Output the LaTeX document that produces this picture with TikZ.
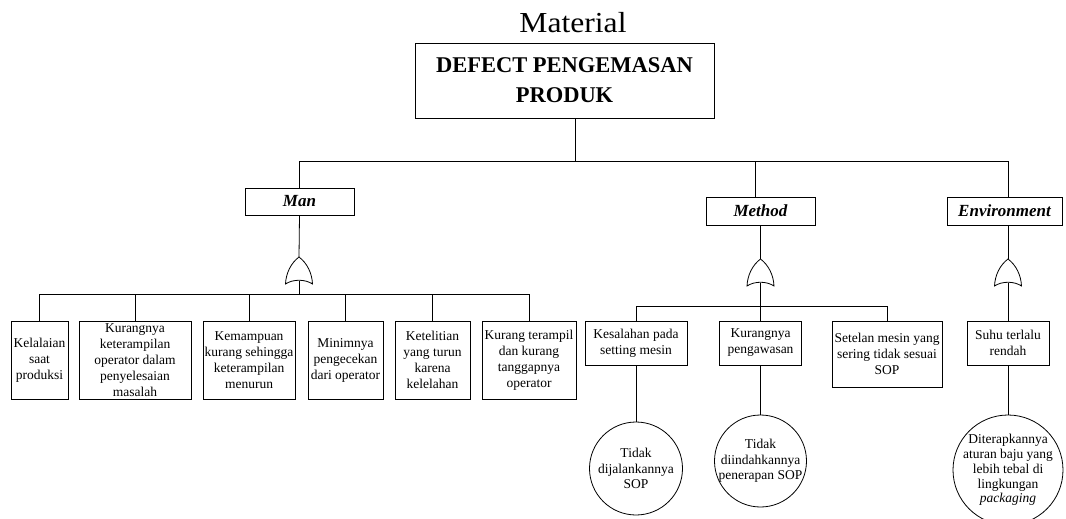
\documentclass[tikz,border=0pt]{standalone}
\usepackage{fontspec}
\setmainfont{Liberation Serif}
\newfontfamily\headfont[FakeStretch=1.09]{Liberation Serif}
\tikzset{
  x=1pt, y=-1pt,
  every path/.style={line width=0.8pt},
  box/.style={draw, rectangle, inner sep=0pt},
  circ/.style={draw, circle, inner sep=0pt},
  txt/.style={align=center, inner sep=0pt, font=\fontsize{13.5}{16}\selectfont},
  ctxt/.style={align=center, inner sep=0pt, font=\fontsize{13.5}{15.3}\selectfont},
  cat/.style={box, font=\fontsize{17}{20}\selectfont\bfseries\itshape},
  orgate/.pic={
    \draw (0,0) .. controls (8,6) and (13,16) .. (13.5,27)
                .. controls (6,22) and (-6,22) .. (-13.5,27)
                .. controls (-13,16) and (-8,6) .. (0,0) -- cycle;
  }
}
\begin{document}
\begin{tikzpicture}
\useasboundingbox (0,0) rectangle (1066,519);

% heading line above the tree
\node[anchor=base, inner sep=0pt, font=\headfont\fontsize{29}{32}\selectfont] (mat) at (573,33) {Material};

% top event
\node[box, minimum width=299, minimum height=75, align=center,
      font=\fontsize{22.5}{30}\selectfont\bfseries] (top) at (564.5,80.5)
      {DEFECT PENGEMASAN\\PRODUK};

% category events
\node[cat, minimum width=109, minimum height=27] (man)  at (299.5,201.5) {Man};
\node[cat, minimum width=109, minimum height=28] (meth) at (760.5,211) {Method};
\node[cat, minimum width=115, minimum height=28] (env)  at (1004.5,211) {Environment};

% main branch
\coordinate (tj) at (575,161);
\coordinate (mj) at (755,161);
\coordinate (ej) at (1008,161);
\draw (top.south -| tj) -- (tj);
\draw (man.north) -- (man.north |- tj) -- (ej) -- (env.north -| ej);
\draw (mj) -- (meth.north -| mj);

% OR gates
\coordinate (gm) at (299,257);    \coordinate (gmo) at (299,280.5);
\coordinate (gt) at (760.5,259);  \coordinate (gto) at (760.5,282.5);
\coordinate (ge) at (1008,259);   \coordinate (geo) at (1008,282.5);
\pic at (gm) {orgate};
\pic at (gt) {orgate};
\pic at (ge) {orgate};
\draw (man.south) -- (gm);
\draw (meth.south) -- (gt);
\draw (env.south -| ge) -- (ge);

% Man causes
\node[box, minimum width=57,  minimum height=78, label={[txt]center:Kelalaian\\saat\\produksi}] (m1) at (39.5,360) {};
\node[box, minimum width=112, minimum height=78, label={[txt]center:Kurangnya\\keterampilan\\operator dalam\\penyelesaian\\masalah}] (m2) at (135,360) {};
\node[box, minimum width=92,  minimum height=78, label={[txt]center:Kemampuan\\kurang sehingga\\keterampilan\\menurun}] (m3) at (249,360) {};
\node[box, minimum width=75,  minimum height=78, label={[txt]center:Minimnya\\pengecekan\\dari operator}] (m4) at (345.5,360) {};
\node[box, minimum width=75,  minimum height=78, label={[txt]center:Ketelitian\\yang turun\\karena\\kelelahan}] (m5) at (432.5,360) {};
\node[box, minimum width=94,  minimum height=78, label={[txt]center:Kurang terampil\\dan kurang\\tanggapnya\\operator}] (m6) at (529,360) {};

\coordinate (mh) at (299,294);
\draw (gmo) -- (mh);
\draw (m1.north) -- (m1.north |- mh) -- (m6.north |- mh) -- (m6.north);
\foreach \n in {m2,m3,m4,m5} \draw (\n.north) -- (\n.north |- mh);

% Method causes
\node[box, minimum width=102, minimum height=44, label={[txt]center:Kesalahan pada\\setting mesin}] (k1) at (636,343) {};
\node[box, minimum width=82,  minimum height=44, label={[txt]center:Kurangnya\\pengawasan}] (k2) at (760.5,343) {};
\node[box, minimum width=110, minimum height=66, label={[txt]center:Setelan mesin yang\\sering tidak sesuai\\SOP}] (k3) at (887,354) {};

\coordinate (th) at (760.5,306.5);
\draw (gto) -- (th);
\draw (k1.north) -- (k1.north |- th) -- (k3.north |- th) -- (k3.north);
\draw (th) -- (k2.north);

% Environment cause
\node[box, minimum width=82, minimum height=44, label={[txt]center:Suhu terlalu\\rendah}] (e1) at (1008,343) {};
\draw (geo) -- (e1.north);

% basic events
\node[circ, minimum size=93,  label={[ctxt]center:Tidak\\dijalankannya\\SOP}] (c1) at (636,468.5) {};
\node[circ, minimum size=92,  label={[ctxt]center:Tidak\\diindahkannya\\penerapan SOP}] (c2) at (760.5,461) {};
\node[circ, minimum size=110, label={[ctxt,font=\fontsize{13.5}{14.8}\selectfont]center:Diterapkannya\\aturan baju yang\\lebih tebal di\\lingkungan\\\textit{packaging}}] (c3) at (1008,470) {};
\draw (k1.south) -- (c1.north);
\draw (k2.south) -- (c2.north);
\draw (e1.south) -- (c3.north);
\end{tikzpicture}
\end{document}
